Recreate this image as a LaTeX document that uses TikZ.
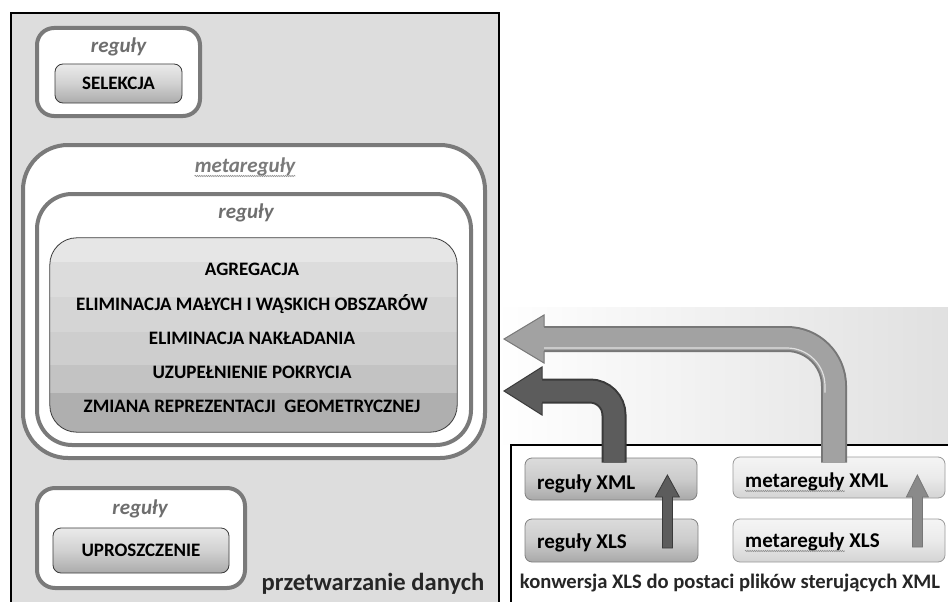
\documentclass[tikz,border=0pt]{standalone}
\usepackage{fontspec}
\setmainfont{Carlito}
\usetikzlibrary{calc,decorations.pathmorphing}

\definecolor{panel}{HTML}{DDDDDD}
\definecolor{frame}{HTML}{7A7A7A}
\definecolor{lbl}{HTML}{6E6E6E}
\definecolor{bandA}{HTML}{E6E6E6}
\definecolor{bandB}{HTML}{DCDCDC}
\definecolor{bandC}{HTML}{D5D5D5}
\definecolor{bandD}{HTML}{CECECE}
\definecolor{bandE}{HTML}{C3C3C3}
\definecolor{bandF}{HTML}{AFAFAF}
\definecolor{darkfill}{HTML}{5C5C5C}
\definecolor{darkedge}{HTML}{3A3A3A}
\definecolor{lightfill}{HTML}{A2A2A2}
\definecolor{lightedge}{HTML}{777777}

\tikzset{
  panelbox/.style={draw=black, line width=2pt, fill=panel, inner sep=0pt, anchor=north west},
  convbox/.style={draw=black, line width=2pt, fill=white, inner sep=0pt, anchor=north west},
  rulebox/.style={draw=frame, line width=4pt, fill=white, rounded corners=#1, inner sep=0pt},
  capsfont/.style={font=\fontsize{19pt}{22pt}\selectfont\bfseries},
  headfont/.style={font=\fontsize{21pt}{24pt}\selectfont\bfseries\itshape, text=lbl, inner sep=0pt},
  button/.style={draw=darkedge, line width=0.8pt, rounded corners=8pt, inner sep=0pt,
    top color=white!92!black, bottom color=black!33, middle color=black!18, capsfont},
  bandtext/.style={capsfont, anchor=base, inner sep=0pt},
  filebox/.style={rounded corners=7pt, line width=0.8pt, inner sep=0pt},
  rfile/.style={filebox, draw=black!50, top color=black!14, bottom color=black!34, middle color=black!20},
  mfile/.style={filebox, draw=black!40, top color=black!4, bottom color=black!17, middle color=black!8},
  filetext/.style={font=\fontsize{21pt}{24pt}\selectfont\bfseries, anchor=base west, inner sep=0pt},
  squiggle/.style={draw=black!45, line width=0.6pt, decorate,
    decoration={snake, amplitude=0.6pt, segment length=2.2pt}},
}

\begin{document}
\begin{tikzpicture}[x=1pt,y=-1pt]
\clip (0,0) rectangle (948,602);

% light backdrop behind the long arrows
\fill[left color=white, right color=black!12] (495,307) rectangle (948,444);

% data processing panel
\node[panelbox, minimum width=488pt, minimum height=610pt] (proc) at (10,12) {};

% conversion panel
\node[convbox, minimum width=450pt, minimum height=170pt] (conv) at (510,444) {};

% selection rules
\node[rulebox=17pt, minimum width=163pt, minimum height=88pt] (selbox) at (118.5,72) {};
\node[headfont, anchor=base] (selhead) at (118.5,53) {reguły};
\node[button, minimum width=127pt, minimum height=39pt] (sel) at (118.5,83.5) {SELEKCJA};

% meta-rules with the main rule group
\node[rulebox=45pt, minimum width=462pt, minimum height=313pt] (meta) at (254,301.5) {};
\node[headfont, anchor=base, text=black!52] (metahead) at (245,172) {metareguły};
\draw[squiggle] ($(metahead.base west)+(0,4)$) -- ($(metahead.base east)+(0,4)$);
\node[rulebox=35pt, minimum width=434pt, minimum height=251pt] (mid) at (254,319.5) {};
\node[headfont, anchor=base] (midhead) at (246,218) {reguły};

\node[minimum width=407pt, minimum height=194pt, inner sep=0pt] (ops) at (253.5,335) {};
\begin{scope}
  \clip[rounded corners=27pt] (ops.north west) rectangle (ops.south east);
  \fill[bandA] (ops.north west) rectangle ($(ops.north east)+(0,24)$);
  \fill[bandB] ($(ops.north west)+(0,24)$) rectangle ($(ops.north east)+(0,59)$);
  \fill[bandC] ($(ops.north west)+(0,59)$) rectangle ($(ops.north east)+(0,94)$);
  \fill[bandD] ($(ops.north west)+(0,94)$) rectangle ($(ops.north east)+(0,127)$);
  \fill[bandE] ($(ops.north west)+(0,127)$) rectangle ($(ops.north east)+(0,155)$);
  \fill[bandF] ($(ops.north west)+(0,155)$) rectangle (ops.south east);
\end{scope}
\draw[darkedge, line width=0.8pt, rounded corners=27pt] (ops.north west) rectangle (ops.south east);
\node[bandtext] (op1) at (252,275.7) {AGREGACJA};
\node[bandtext] (op2) at (252,310) {ELIMINACJA MAŁYCH I WĄSKICH OBSZARÓW};
\node[bandtext] (op3) at (252,344) {ELIMINACJA NAKŁADANIA};
\node[bandtext] (op4) at (252,378) {UZUPEŁNIENIE POKRYCIA};
\node[bandtext] (op5) at (252,412.5) {ZMIANA REPREZENTACJI\ \ GEOMETRYCZNEJ};

% simplification rules
\node[rulebox=18pt, minimum width=208pt, minimum height=100pt] (simbox) at (141,538) {};
\node[headfont, anchor=base] (simhead) at (140,514) {reguły};
\node[button, minimum width=176pt, minimum height=45pt] (sim) at (141,550.5) {UPROSZCZENIE};

\node[font=\fontsize{24.6pt}{27pt}\selectfont\bfseries, anchor=base, inner sep=0pt, text=black!85]
  (proctitle) at (373,590) {przetwarzanie danych};

% rule files
\node[rfile, minimum width=172pt, minimum height=42pt] (rxml) at (611,479) {};
\node[rfile, minimum width=173pt, minimum height=43pt] (rxls) at (611.5,540.5) {};
\node[mfile, minimum width=212pt, minimum height=41pt] (mxml) at (839,477.5) {};
\node[mfile, minimum width=212pt, minimum height=43pt] (mxls) at (839,540.5) {};
\node[filetext] (rxmlt) at (537,489) {reguły XML};
\node[filetext] (rxlst) at (537,548) {reguły XLS};
\node[filetext] (mxmlt) at (745,487) {metareguły XML};
\node[filetext] (mxlst) at (745,547) {metareguły XLS};
\node[filetext] (mw1) at (745,487) {\phantom{metareguły}};
\node[filetext] (mw2) at (745,547) {\phantom{metareguły}};
\draw[squiggle] ($(mw1.base west)+(0,4)$) -- ($(mw1.base east)+(0,4)$);
\draw[squiggle] ($(mw2.base west)+(0,4)$) -- ($(mw2.base east)+(0,4)$);

\node[font=\fontsize{20.6pt}{24pt}\selectfont\bfseries, anchor=base, inner sep=0pt, text=black!85]
  (convtitle) at (730,588) {konwersja XLS do postaci plików sterujących XML};

% conversion arrows XLS -> XML
\coordinate (c1b) at ($(rxls.east)+(-31,7.5)$);
\coordinate (c1t) at ($(rxml.east)+(-30,-4)$);
\filldraw[fill=darkfill, draw=darkedge, line width=0.8pt, line join=miter]
  ($(c1b)+(-5,0)$) -- ($(c1t)+(-5,22)$) -- ($(c1t)+(-12,22)$) -- (c1t)
  -- ($(c1t)+(12,22)$) -- ($(c1t)+(5,22)$) -- ($(c1b)+(5,0)$) -- cycle;
\coordinate (c2b) at ($(mxls.east)+(-28,6.5)$);
\coordinate (c2t) at ($(mxml.east)+(-28,-2.5)$);
\filldraw[fill=lightfill!85!black, draw=lightedge, line width=0.8pt, line join=miter]
  ($(c2b)+(-5,0)$) -- ($(c2t)+(-5,22)$) -- ($(c2t)+(-11,22)$) -- (c2t)
  -- ($(c2t)+(11,22)$) -- ($(c2t)+(5,22)$) -- ($(c2b)+(5,0)$) -- cycle;

% rule files feed the processing panel
\coordinate (pe) at ($(proc.east)+(4,0)$);
\coordinate (rlvl) at (0,391);
\coordinate (mlvl) at (0,339);
\coordinate (rtip) at (pe |- rlvl);
\coordinate (mtip) at (pe |- mlvl);

\coordinate (ra) at ($(rxml.north)+(3,5)$);
\draw[darkedge, line width=25pt, rounded corners=24pt] (ra) |- ($(rtip)+(38,0)$);
\fill[darkfill] ($(rtip)+(38,-24)$) -- (rtip) -- ($(rtip)+(38,24)$) -- cycle;
\draw[darkedge, line width=1pt, line join=miter]
  ($(rtip)+(38,-12)$) -- ($(rtip)+(38,-24)$) -- (rtip) -- ($(rtip)+(38,24)$) -- ($(rtip)+(38,12)$);
\draw[darkfill, line width=21pt, rounded corners=24pt] (ra) |- ($(rtip)+(36,0)$);

\coordinate (ma) at ($(mxml.north)+(-5,6)$);
\draw[lightedge, line width=26pt, rounded corners=47pt] (ma) |- ($(mtip)+(40,0)$);
\fill[lightfill] ($(mtip)+(40,-24)$) -- (mtip) -- ($(mtip)+(40,24)$) -- cycle;
\draw[lightedge, line width=1pt, line join=miter]
  ($(mtip)+(40,-12)$) -- ($(mtip)+(40,-24)$) -- (mtip) -- ($(mtip)+(40,24)$) -- ($(mtip)+(40,12)$);
\draw[lightfill, line width=22pt, rounded corners=47pt] (ma) |- ($(mtip)+(38,0)$);
% sheen along the inner edge of the long arrow
\coordinate (mhl) at ($(ma)+(-9,-70)$);
\draw[white!88!black, line width=1.2pt, rounded corners=38pt] (mhl) |- ($(mtip)+(40,9)$);
\end{tikzpicture}
\end{document}
